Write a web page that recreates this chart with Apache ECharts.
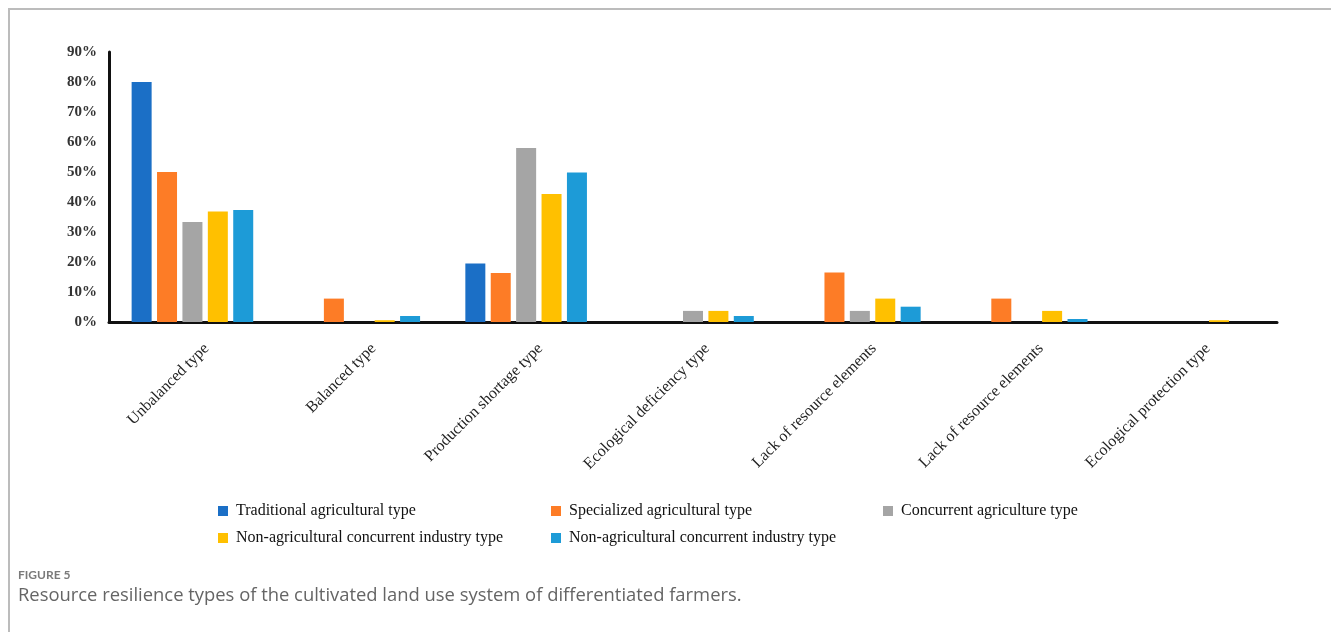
<!DOCTYPE html>
<html>
<head>
<meta charset="utf-8">
<title>Resource resilience types</title>
<script src="https://cdn.jsdelivr.net/npm/echarts@6/dist/echarts.min.js"></script>
<style>
  html, body { margin: 0; padding: 0; background: #fff; }
  #chart { width: 1331px; height: 632px; }
</style>
</head>
<body>
<div id="chart"></div>
<script>
// Resilience type categories along the x axis
const categories = [
  'Unbalanced type',
  'Balanced type',
  'Production shortage type',
  'Ecological deficiency type',
  'Lack of resource elements',
  'Lack of resource elements ',
  'Ecological protection type'
];

// Share of each farmer type (%) per resilience type
const traditional   = [80, 0, 19.5, 0, 0, 0, 0];
const specialized   = [50, 7.8, 16.3, 0, 16.5, 7.8, 0];
const concurrent    = [33.3, 0, 58, 3.7, 3.7, 0, 0];
const nonAgYellow   = [36.8, 0.6, 42.7, 3.7, 7.8, 3.7, 0.6];
const nonAgBlue     = [37.3, 2, 49.8, 2, 5.1, 1, 0];

const seriesNames = [
  'Traditional agricultural type',
  'Specialized agricultural type',
  'Concurrent agriculture type',
  'Non-agricultural concurrent industry type',
  'Non-agricultural concurrent industry type '
];
const seriesValues = [traditional, specialized, concurrent, nonAgYellow, nonAgBlue];
const colors = ['#1b6fc6', '#fd7c26', '#a5a5a5', '#ffc000', '#1d9bd7'];

// Tick values for the y axis (percent)
const yMax = 90;
const yStep = 10;

const chart = echarts.init(document.getElementById('chart'));

const serif = '"Liberation Serif", "Times New Roman", serif';

const series = seriesValues.map((vals, i) => ({
  name: seriesNames[i],
  type: 'bar',
  data: vals,
  barWidth: 20,
  barGap: '27%',
  itemStyle: { color: colors[i] },
  emphasis: { disabled: true }
}));

// One legend block per entry so the columns line up
const legendSpots = [
  { left: 218, top: 503 },
  { left: 551, top: 503 },
  { left: 883, top: 503 },
  { left: 218, top: 530 },
  { left: 551, top: 530 }
];
const legends = seriesNames.map((name, i) => ({
  data: [name],
  left: legendSpots[i].left,
  top: legendSpots[i].top,
  itemWidth: 10,
  itemHeight: 10,
  itemGap: 0,
  padding: 0,
  icon: 'rect',
  selectedMode: false,
  formatter: n => n.trim(),
  textStyle: { fontFamily: serif, fontSize: 16, color: '#111', padding: [0, 0, 0, 3] }
}));

chart.setOption({
  animation: false,
  backgroundColor: '#ffffff',
  color: colors,
  grid: { left: 109, right: 54, top: 52, bottom: 310, containLabel: false },
  legend: legends,
  xAxis: {
    type: 'category',
    data: categories,
    axisLine: { lineStyle: { color: '#111', width: 3 } },
    axisTick: { show: false },
    axisLabel: {
      rotate: 45,
      margin: 10,
      interval: 0,
      verticalAlign: 'top',
      padding: [12, 0, 0, 0],
      fontFamily: serif,
      fontSize: 16,
      color: '#222',
      formatter: v => v.trim()
    }
  },
  yAxis: {
    type: 'value',
    min: 0,
    max: yMax,
    interval: yStep,
    axisLine: { show: true, lineStyle: { color: '#111', width: 3 } },
    axisTick: { show: false },
    splitLine: { show: false },
    axisLabel: {
      formatter: '{value}%',
      margin: 12,
      fontFamily: serif,
      fontSize: 15,
      fontWeight: 'bold',
      color: '#333'
    }
  },
  series: series,
  graphic: [
    {
      type: 'rect',
      silent: true,
      shape: { x: 9, y: 9, width: 1400, height: 700 },
      style: { fill: 'none', stroke: '#bcbcbc', lineWidth: 2 }
    },
    {
      type: 'text',
      left: 18,
      top: 569,
      style: {
        text: 'FIGURE 5',
        fontFamily: 'Lato, "Open Sans", sans-serif',
        fontSize: 12,
        fontWeight: 'bold',
        fill: '#7a7a7a'
      }
    },
    {
      type: 'text',
      left: 18,
      top: 587,
      style: {
        text: 'Resource resilience types of the cultivated land use system of differentiated farmers.',
        fontFamily: '"Open Sans", Lato, sans-serif',
        fontSize: 18.4,
        fill: '#656565'
      }
    }
  ]
});
</script>
</body>
</html>
